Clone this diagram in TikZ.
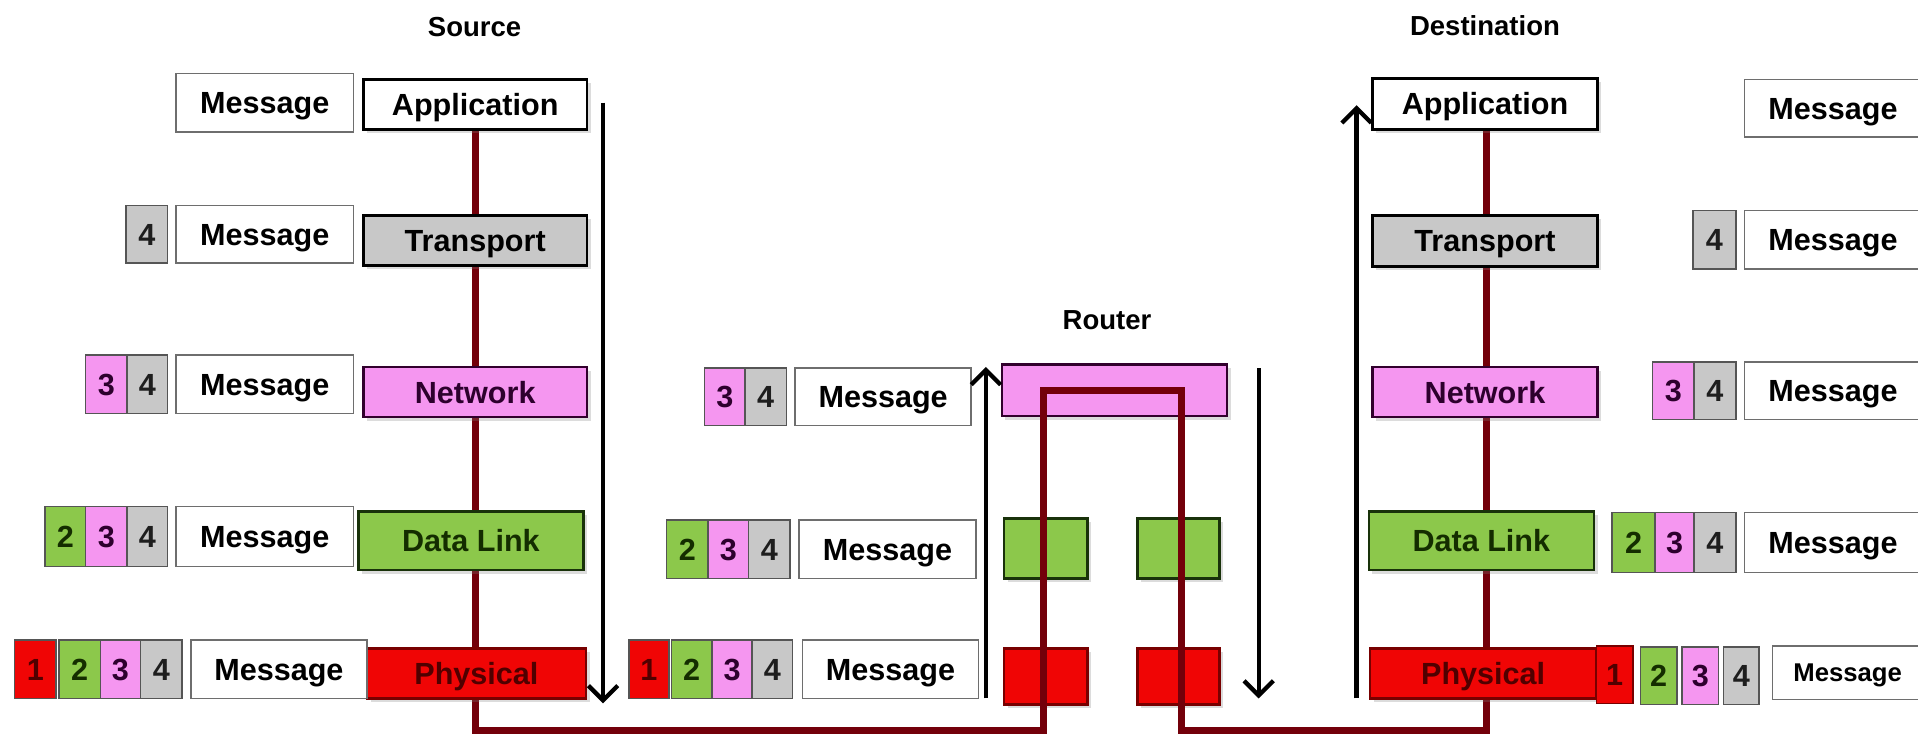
\documentclass[tikz,border=0pt]{standalone}
\usepackage{fontspec}
\setmainfont{Liberation Sans}
\usetikzlibrary{arrows.meta,shadows}

% fills
\definecolor{grayF}{RGB}{200,200,200}
\definecolor{pinkF}{RGB}{245,150,240}
\definecolor{greenF}{RGB}{140,200,75}
\definecolor{redF}{RGB}{240,5,5}
% borders and text
\definecolor{msgBorder}{RGB}{110,110,110}
\definecolor{numBorder}{RGB}{85,85,85}
\definecolor{pinkB}{RGB}{50,0,45}
\definecolor{greenB}{RGB}{25,50,10}
\definecolor{redB}{RGB}{120,0,0}
\definecolor{pinkT}{RGB}{45,0,45}
\definecolor{greenT}{RGB}{20,45,0}
\definecolor{redT}{RGB}{80,0,0}
\definecolor{grayT}{RGB}{30,30,30}
\definecolor{wire}{RGB}{115,0,10}

\tikzset{
  lbl/.style={font=\fontsize{25}{28}\selectfont\bfseries, inner sep=0pt,
    text height=18pt, text depth=0pt},
  hdr/.style={font=\fontsize{22.5}{26}\selectfont\bfseries, inner sep=0pt},
  msgbox/.style={lbl, draw=msgBorder, line width=1.3pt, fill=white, minimum width=145pt},
  numbox/.style={lbl, draw=numBorder, line width=1.3pt, minimum width=33pt},
  hOne/.style={numbox, fill=redF, text=redT},
  hTwo/.style={numbox, fill=greenF, text=greenT},
  hThree/.style={numbox, fill=pinkF, text=pinkT},
  hFour/.style={numbox, fill=grayF, text=grayT},
  layer/.style={lbl, line width=2pt,
    drop shadow={shadow xshift=3pt, shadow yshift=-3pt, opacity=0.28}},
  appL/.style={layer, draw=black, fill=white},
  traL/.style={layer, draw=black, fill=grayF},
  netL/.style={layer, draw=pinkB, fill=pinkF, text=pinkT},
  dllL/.style={layer, draw=greenB, fill=greenF, text=greenT},
  phyL/.style={layer, draw=redB, fill=redF, text=redT},
  flow/.style={draw=black, line width=3.5pt, -{Straight Barb[length=12pt,width=24pt]}},
  wireline/.style={draw=wire, line width=6pt, line join=miter}
}

\begin{document}
\begin{tikzpicture}[x=1pt, y=-1pt]
\useasboundingbox (0,0) rectangle (1568,601);
\clip (0,0) rectangle (1568,601);

% ---------- router (drawn under the wire) ----------
\node[hdr] (rhdr) at (905,262) {Router};
\node[netL, minimum width=184pt, minimum height=42pt] (rNet) at (911,319) {};
\node[dllL, minimum width=68pt, minimum height=49pt] (rDLa) at (855,448.5) {};
\node[dllL, minimum width=67pt, minimum height=49pt] (rDLb) at (963.5,448.5) {};
\node[phyL, minimum width=68pt, minimum height=46pt] (rPhA) at (855,553) {};
\node[phyL, minimum width=67pt, minimum height=46pt] (rPhB) at (963.5,553) {};

% ---------- wire path between the stacks ----------
\coordinate (w1) at (388.5,106);
\coordinate (w2) at (388.5,597);
\coordinate (w3) at (853,597);
\coordinate (w4) at (853,319.5);
\coordinate (w5) at (966,319.5);
\coordinate (w6) at (966,597);
\coordinate (w7) at (1215,597);
\coordinate (w8) at (1215,106);
\draw[wireline] (w1) -- (w2) -- (w3) -- (w4) -- (w5) -- (w6) -- (w7) -- (w8);

% ---------- source stack ----------
\node[hdr] (shdr) at (388,22) {Source};
\node[appL, minimum width=183pt, minimum height=41pt] (sApp) at (388.5,85.5) {Application};
\node[traL, minimum width=183pt, minimum height=41pt] (sTra) at (388.5,196.5) {Transport};
\node[netL, minimum width=183pt, minimum height=41pt] (sNet) at (388.5,320.5) {Network};
\node[dllL, minimum width=184pt, minimum height=48pt] (sDL) at (385,442) {Data Link};
\node[phyL, minimum width=179pt, minimum height=41pt] (sPhy) at (389.5,550.5) {Physical};

% source packets
\node[msgbox, minimum height=48pt] (sm1) at (216.5,84) {Message};

\node[hFour, minimum width=34pt, minimum height=47pt] (s2d) at (120,191.5) {4};
\node[msgbox, minimum height=47pt] (sm2) at (216.5,191.5) {Message};

\node[hThree, minimum width=34pt, minimum height=48pt] (s3c) at (87,314) {3};
\node[hFour, minimum height=48pt] (s3d) at (120.5,314) {4};
\node[msgbox, minimum height=48pt] (sm3) at (216.5,314) {Message};

\node[hTwo, minimum height=49pt] (s4b) at (53.5,438.5) {2};
\node[hThree, minimum width=34pt, minimum height=49pt] (s4c) at (87,438.5) {3};
\node[hFour, minimum height=49pt] (s4d) at (120.5,438.5) {4};
\node[msgbox, minimum height=49pt] (sm4) at (216.5,438.5) {Message};

\node[hOne, minimum width=34pt, minimum height=48pt] (s5a) at (29,547) {1};
\node[hTwo, minimum width=34pt, minimum height=48pt] (s5b) at (65,547) {2};
\node[hThree, minimum height=48pt] (s5c) at (98.5,547) {3};
\node[hFour, minimum width=34pt, minimum height=48pt] (s5d) at (132,547) {4};
\node[msgbox, minimum width=144pt, minimum height=48pt] (sm5) at (228,547) {Message};

% ---------- packets at the router ----------
\node[hThree, minimum height=47pt] (r3c) at (592.5,324.5) {3};
\node[hFour, minimum width=34pt, minimum height=47pt] (r3d) at (626,324.5) {4};
\node[msgbox, minimum width=144pt, minimum height=47pt] (rm3) at (722,324.5) {Message};

\node[hTwo, minimum width=34pt, minimum height=48pt] (r4b) at (562,449) {2};
\node[hThree, minimum height=48pt] (r4c) at (595.5,449) {3};
\node[hFour, minimum width=34pt, minimum height=48pt] (r4d) at (629,449) {4};
\node[msgbox, minimum height=48pt] (rm4) at (725.5,449) {Message};

\node[hOne, minimum height=48pt] (r5a) at (530.5,547) {1};
\node[hTwo, minimum height=48pt] (r5b) at (565.5,547) {2};
\node[hThree, minimum height=48pt] (r5c) at (598.5,547) {3};
\node[hFour, minimum height=48pt] (r5d) at (631.5,547) {4};
\node[msgbox, minimum width=144pt, minimum height=48pt] (rm5) at (728,547) {Message};

% ---------- destination stack ----------
\node[hdr] (dhdr) at (1214,21) {Destination};
\node[appL, minimum width=184pt, minimum height=42pt] (dApp) at (1214,85) {Application};
\node[traL, minimum width=184pt, minimum height=42pt] (dTra) at (1214,197) {Transport};
\node[netL, minimum width=184pt, minimum height=41pt] (dNet) at (1214,320.5) {Network};
\node[dllL, minimum width=184pt, minimum height=48pt] (dDL) at (1211,442) {Data Link};
\node[phyL, minimum width=185pt, minimum height=41pt] (dPhy) at (1212.5,550.5) {Physical};

% destination packets
\node[msgbox, minimum height=47pt] (dm1) at (1498.5,88.5) {Message};

\node[hFour, minimum width=35pt, minimum height=48pt] (d2d) at (1401.5,196) {4};
\node[msgbox, minimum height=48pt] (dm2) at (1498.5,196) {Message};

\node[hThree, minimum width=34pt, minimum height=47pt] (d3c) at (1368,319.5) {3};
\node[hFour, minimum width=34pt, minimum height=47pt] (d3d) at (1402,319.5) {4};
\node[msgbox, minimum height=47pt] (dm3) at (1498.5,319.5) {Message};

\node[hTwo, minimum width=35pt, minimum height=49pt] (d4b) at (1335.5,443.5) {2};
\node[hThree, minimum width=32pt, minimum height=49pt] (d4c) at (1369,443.5) {3};
\node[hFour, minimum width=34pt, minimum height=49pt] (d4d) at (1402,443.5) {4};
\node[msgbox, minimum height=49pt] (dm4) at (1498.5,443.5) {Message};

\node[hOne, draw=redB, minimum width=30pt, minimum height=47pt] (d5a) at (1320,551.5) {1};
\node[hTwo, minimum width=30pt, minimum height=47pt] (d5b) at (1356,552.5) {2};
\node[hThree, minimum width=30pt, minimum height=47pt] (d5c) at (1390,552.5) {3};
\node[hFour, minimum width=29pt, minimum height=47pt] (d5d) at (1423.5,552.5) {4};
\node[msgbox, font=\fontsize{21}{24}\selectfont\bfseries, text height=15pt,
      minimum width=123pt, minimum height=44pt] (dm5) at (1510.5,550) {Message};

% ---------- direction of travel ----------
\coordinate (a1s) at (493,84);   \coordinate (a1e) at (493,575);
\coordinate (a2s) at (806,571);  \coordinate (a2e) at (806,300);
\coordinate (a3s) at (1029,301); \coordinate (a3e) at (1029,571);
\coordinate (a4s) at (1109,571); \coordinate (a4e) at (1109,86);
\draw[flow] (a1s) -- (a1e);
\draw[flow] (a2s) -- (a2e);
\draw[flow] (a3s) -- (a3e);
\draw[flow] (a4s) -- (a4e);
\end{tikzpicture}
\end{document}
